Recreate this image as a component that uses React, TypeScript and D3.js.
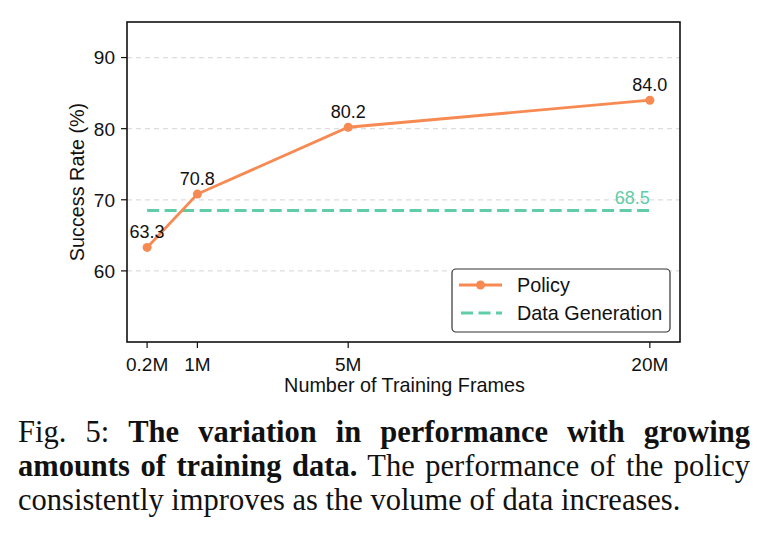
import { useEffect, useRef } from 'react';
import * as d3 from "d3";

// training set sizes, placed at hand-picked positions along the axis
const frameLabels = ['0.2M', '1M', '5M', '20M'];
const framePositions = [0, 1, 4, 10];
const policyRates = [63.3, 70.8, 80.2, 84.0];
const dataGenRate = 68.5;
const yTicks = [60, 70, 80, 90];

const ORANGE = '#f78a52';
const GREEN = '#60cda6';
const SANS = '"Liberation Sans", Arial, sans-serif';
const SERIF = '"Liberation Serif", "Times New Roman", serif';
const TICK_FS = 19;
const NOTE_FS = 18;
const LABEL_FS = 19.8;

const captionLines = [
  { parts: [{ t: 'Fig. 5: ', bold: false }, { t: 'The variation in performance with growing', bold: true }], justify: true },
  { parts: [{ t: 'amounts of training data.', bold: true }, { t: ' The performance of the policy', bold: false }], justify: true },
  { parts: [{ t: 'consistently improves as the volume of data increases.', bold: false }], justify: false },
];

export default function App() {
  const capRef = useRef<SVGGElement>(null);

  const left = 127, right = 680, top = 22, bottom = 342;
  const x = d3.scaleLinear().domain([-0.4, 10.6]).range([left, right]);
  const y = d3.scaleLinear().domain([50, 95]).range([bottom, top]);

  const pts = framePositions.map((p, i) => ({ p, v: policyRates[i] }));
  const line = d3.line<{ p: number, v: number }>().x(d => x(d.p)).y(d => y(d.v));

  // stretch word spacing so the first two caption lines fill the column
  useEffect(() => {
    const g = capRef.current;
    if (!g) return;
    const target = 732;
    g.querySelectorAll('text').forEach((el) => {
      const t = el as SVGTextElement;
      if (t.dataset.justify !== '1') return;
      t.setAttribute('word-spacing', '0');
      const w = t.getComputedTextLength();
      const gaps = (t.textContent || '').split(' ').length - 1;
      if (gaps > 0) t.setAttribute('word-spacing', String((target - w) / gaps));
    });
  }, []);

  return (
    <svg width={766} height={535} style={{ position: 'absolute', left: 0, top: 0, background: 'white' }}>
      {/* grid */}
      {yTicks.map(t => (
        <line key={'g' + t} x1={left} x2={right} y1={y(t)} y2={y(t)}
          stroke="#dddddd" strokeWidth={1.2} strokeDasharray="5,4" />
      ))}

      {/* data generation reference */}
      <line x1={x(framePositions[0])} x2={x(framePositions[framePositions.length - 1])}
        y1={y(dataGenRate)} y2={y(dataGenRate)}
        stroke={GREEN} strokeWidth={3} strokeDasharray="12,5.5" />
      <text x={x(framePositions[framePositions.length - 1])} y={y(dataGenRate) - 6.5}
        textAnchor="end" fontFamily={SANS} fontSize={NOTE_FS} fill={GREEN}>{dataGenRate.toFixed(1)}</text>

      {/* policy curve */}
      <path d={line(pts) || ''} fill="none" stroke={ORANGE} strokeWidth={2.8} />
      {pts.map((d, i) => (
        <g key={'p' + i}>
          <circle cx={x(d.p)} cy={y(d.v)} r={4.5} fill={ORANGE} />
          <text x={x(d.p)} y={y(d.v) - 9.5} textAnchor="middle" fontFamily={SANS} fontSize={NOTE_FS} fill="#111">
            {d.v.toFixed(1)}
          </text>
        </g>
      ))}

      {/* frame */}
      <rect x={left} y={top} width={right - left} height={bottom - top} fill="none" stroke="#111" strokeWidth={1.6} />

      {/* y axis */}
      {yTicks.map(t => (
        <g key={'y' + t}>
          <line x1={left - 6} x2={left} y1={y(t)} y2={y(t)} stroke="#111" strokeWidth={1.2} />
          <text x={left - 12} y={y(t)} dy="0.36em" textAnchor="end" fontFamily={SANS} fontSize={TICK_FS} fill="#111">{t}</text>
        </g>
      ))}
      <text transform={`translate(84, ${(top + bottom) / 2}) rotate(-90)`} textAnchor="middle"
        fontFamily={SANS} fontSize={LABEL_FS} fill="#111">Success Rate (%)</text>

      {/* x axis */}
      {framePositions.map((p, i) => (
        <g key={'x' + i}>
          <line x1={x(p)} x2={x(p)} y1={bottom} y2={bottom + 6} stroke="#111" strokeWidth={1.2} />
          <text x={x(p)} y={370.5} textAnchor="middle" fontFamily={SANS} fontSize={TICK_FS} fill="#111">{frameLabels[i]}</text>
        </g>
      ))}
      <text x={(left + right) / 2 + 1} y={392} textAnchor="middle" fontFamily={SANS} fontSize={LABEL_FS} fill="#111">
        Number of Training Frames
      </text>

      {/* legend */}
      <g>
        <rect x={452} y={269} width={218} height={63} rx={4} fill="white" fillOpacity={0.9} stroke="#333" strokeWidth={1.2} />
        <line x1={459} x2={502} y1={285} y2={285} stroke={ORANGE} strokeWidth={2.8} />
        <circle cx={480.5} cy={285} r={4.5} fill={ORANGE} />
        <text x={517} y={285} dy="0.36em" fontFamily={SANS} fontSize={LABEL_FS} fill="#111">Policy</text>
        <line x1={461} x2={502} y1={313} y2={313} stroke={GREEN} strokeWidth={3} strokeDasharray="12,5.5" />
        <text x={517} y={313} dy="0.36em" fontFamily={SANS} fontSize={LABEL_FS} fill="#111">Data Generation</text>
      </g>

      {/* caption */}
      <g ref={capRef}>
        {captionLines.map((ln, i) => (
          <text key={'c' + i} x={18} y={442 + i * 34} fontFamily={SERIF} fontSize={30.5} fill="#111"
            data-justify={ln.justify ? '1' : '0'}>
            {ln.parts.map((p, j) => (
              <tspan key={j} fontWeight={p.bold ? 'bold' : 'normal'}>{p.t}</tspan>
            ))}
          </text>
        ))}
      </g>
    </svg>
  );
}
